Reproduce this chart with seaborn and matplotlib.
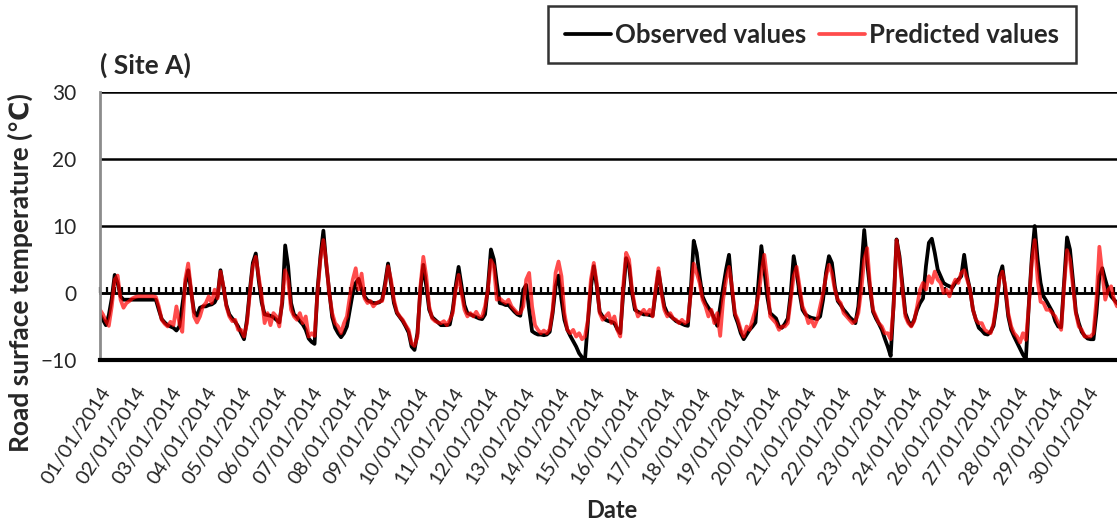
import numpy as np
import matplotlib
matplotlib.use('Agg')
import matplotlib.pyplot as plt
import seaborn as sns

# ── data: 2-hourly road surface temperature (°C), one row per day, 00h..22h ──
day_labels = ['01/01/2014', '02/01/2014', '03/01/2014', '04/01/2014', '05/01/2014',
              '06/01/2014', '07/01/2014', '08/01/2014', '09/01/2014', '10/01/2014',
              '11/01/2014', '12/01/2014', '13/01/2014', '14/01/2014', '15/01/2014',
              '16/01/2014', '17/01/2014', '18/01/2014', '19/01/2014', '20/01/2014',
              '21/01/2014', '22/01/2014', '23/01/2014', '24/01/2014', '26/01/2014',
              '27/01/2014', '28/01/2014', '29/01/2014', '30/01/2014']

observed = [
    -3.2, -4.0, -4.8, -3.3, -0.8, 2.7, 1.5, -0.5, -1.0, -1.0, -1.0, -1.0,
    -1.0, -1.0, -1.0, -1.0, -1.0, -1.0, -1.0, -1.0, -2.5, -3.9, -4.4, -4.8,
    -5.0, -5.2, -5.6, -5.0, -1.8, 1.3, 3.4, 0.2, -2.8, -3.4, -2.2, -2.0,
    -2.0, -1.8, -1.7, -1.4, -0.5, 3.4, 0.8, -1.8, -3.2, -3.8, -4.3, -5.0,
    -6.0, -6.9, -4.0, 0.5, 4.5, 5.9, 1.9, -1.4, -3.2, -3.3, -3.4, -3.6,
    -4.0, -4.4, -1.5, 7.1, 4.0, -1.5, -3.2, -3.6, -4.2, -4.7, -5.5, -6.8,
    -7.3, -7.6, 0.5, 5.5, 9.3, 4.2, 0.2, -3.6, -5.2, -6.0, -6.6, -6.0,
    -5.0, -2.5, 0.0, 1.5, 2.1, 0.5, -0.5, -1.1, -1.3, -1.5, -1.5, -1.4,
    -1.0, 1.5, 4.4, 1.5, -1.5, -3.0, -3.6, -4.2, -5.0, -5.9, -8.0, -8.5,
    -6.0, 0.5, 4.2, 1.0, -2.5, -3.6, -4.0, -4.4, -4.8, -4.8, -4.8, -4.7,
    -2.5, 1.0, 3.9, 1.0, -1.8, -3.0, -3.2, -3.4, -3.6, -3.8, -3.9, -3.2,
    1.0, 6.5, 5.0, 1.5, -1.5, -1.6, -1.8, -1.8, -2.3, -2.8, -3.2, -3.4,
    0.5, 1.2, -2.5, -5.7, -6.0, -6.2, -6.2, -6.3, -6.2, -5.8, -3.0, 1.0,
    2.6, -1.0, -4.0, -5.5, -6.4, -7.2, -8.0, -9.0, -9.6, -10.0, -4.3, 0.8,
    4.0, 1.0, -2.8, -3.5, -4.0, -4.2, -4.3, -4.5, -5.4, -6.0, 0.0, 5.2,
    4.0, 0.0, -2.5, -2.8, -3.0, -3.2, -3.2, -3.3, -3.4, 0.0, 3.2, 0.5,
    -2.0, -3.0, -3.4, -3.8, -4.2, -4.4, -4.6, -4.8, -4.9, 0.5, 7.8, 6.0,
    2.5, -0.5, -1.5, -2.2, -2.8, -3.8, -4.9, -2.0, 0.8, 3.5, 5.7, 0.5,
    -3.3, -4.5, -6.0, -6.9, -6.2, -5.5, -5.0, -4.4, 1.5, 7.0, 3.5, -0.5,
    -3.0, -3.4, -3.8, -5.0, -5.2, -4.6, -3.8, 0.0, 5.5, 3.0, 0.0, -2.5,
    -3.2, -3.5, -3.7, -3.8, -3.9, -3.5, -1.0, 3.0, 5.5, 4.5, 1.0, -1.2,
    -1.8, -2.5, -3.0, -3.6, -4.0, -4.5, -2.0, 3.5, 9.4, 4.5, 0.5, -2.8,
    -3.8, -4.6, -5.5, -6.8, -8.0, -9.4, -1.6, 8.0, 5.5, 1.2, -3.0, -4.2,
    -4.9, -4.0, -2.5, -1.5, -0.8, 4.0, 7.5, 8.1, 6.0, 3.5, 2.5, 1.5,
    1.2, 1.0, 0.8, 1.5, 2.0, 2.5, 5.7, 2.5, 0.5, -2.5, -4.0, -5.2,
    -5.6, -6.1, -6.2, -5.8, -4.9, -2.0, 2.5, 4.0, 0.5, -3.5, -5.5, -6.5,
    -7.4, -8.3, -9.2, -9.9, -1.7, 5.2, 10.0, 5.0, 1.5, -0.5, -1.2, -2.0,
    -2.8, -4.2, -5.0, -5.1, 1.6, 8.3, 6.5, 2.0, -2.8, -4.5, -5.8, -6.4,
    -6.8, -6.9, -6.9, -3.0, 2.5, 3.7, 2.0, 0.5, -0.5, -1.0, -1.5, -2.0,
]

predicted = [
    -2.5, -3.2, -4.2, -4.9, -2.0, 2.0, 2.6, -1.0, -2.2, -1.5, -1.2, -0.8,
    -0.6, -0.5, -0.5, -0.5, -0.5, -0.5, -0.5, -0.6, -2.0, -4.0, -4.6, -5.0,
    -4.3, -4.8, -2.0, -4.5, -5.8, 2.0, 4.4, 0.5, -3.5, -4.4, -3.5, -2.0,
    -1.5, -0.5, -1.5, 0.5, -0.8, 3.2, 1.0, -2.0, -3.5, -4.2, -4.0, -5.5,
    -5.5, -6.5, -4.5, 0.0, 4.0, 5.4, 2.5, -0.5, -4.5, -3.0, -4.8, -3.0,
    -3.5, -5.0, -1.0, 3.4, 2.0, -2.5, -3.5, -4.0, -3.0, -4.5, -3.5, -6.5,
    -6.0, -6.4, 0.0, 5.0, 7.9, 4.5, 0.0, -3.0, -4.5, -5.0, -6.0, -4.5,
    -3.5, -0.5, 2.0, 3.7, 0.5, 2.9, -0.8, -1.5, -1.2, -2.0, -1.5, -1.3,
    -1.2, 1.0, 4.0, 2.0, -1.0, -2.8, -3.5, -4.0, -4.8, -5.5, -7.5, -7.9,
    -6.5, 1.0, 5.4, 2.5, -2.0, -3.8, -4.2, -4.4, -4.5, -4.2, -4.8, -4.0,
    -3.0, 0.5, 2.7, 0.0, -2.5, -3.5, -3.0, -3.5, -2.8, -3.6, -3.5, -2.0,
    0.5, 4.9, 4.0, -1.0, -0.8, -1.2, -1.5, -1.0, -2.0, -2.5, -3.0, -3.0,
    -2.0, 2.0, 3.0, -2.0, -4.8, -5.5, -6.0, -5.6, -6.0, -5.4, -2.5, 3.0,
    4.7, 2.5, -3.0, -5.5, -6.0, -5.5, -6.5, -6.0, -6.9, -6.5, -4.0, 2.0,
    4.5, 1.5, -3.0, -4.0, -3.5, -3.0, -4.5, -3.5, -5.5, -6.5, 1.0, 6.0,
    5.0, 0.5, -2.0, -3.5, -3.0, -2.5, -3.2, -2.5, -3.5, 0.5, 3.7, 0.0,
    -2.5, -3.5, -3.0, -3.8, -4.0, -4.5, -4.0, -4.5, -4.2, 0.0, 4.4, 3.0,
    1.5, -1.0, -2.0, -3.5, -2.5, -4.5, -3.0, -6.4, -1.0, 2.0, 3.9, 1.0,
    -3.0, -4.0, -5.5, -6.5, -5.0, -5.5, -4.0, -2.5, -0.5, 3.0, 5.7, 2.0,
    -3.5, -4.0, -4.5, -5.5, -5.0, -5.0, -4.5, -1.0, 2.5, 3.9, 1.0, -2.0,
    -3.0, -4.5, -4.0, -5.0, -4.0, -2.0, 0.0, 2.5, 4.2, 3.0, 0.5, -1.0,
    -1.5, -3.0, -3.5, -4.0, -4.5, -4.2, -3.0, 0.5, 5.0, 6.7, 1.0, -2.5,
    -3.5, -4.5, -5.0, -6.0, -6.0, -6.9, -2.0, 7.9, 5.0, 0.5, -3.5, -4.5,
    -5.0, -4.2, -2.0, 0.5, 1.5, 0.5, 2.5, 1.5, 3.2, 2.0, 1.5, 0.0,
    0.5, -0.5, 1.0, 2.0, 1.5, 3.0, 3.4, 2.0, 0.5, -2.5, -4.0, -4.5,
    -4.5, -5.5, -5.8, -6.0, -4.5, -1.5, 2.0, 3.2, 1.0, -3.0, -5.0, -6.0,
    -6.5, -7.4, -6.0, -7.0, -2.0, 4.5, 7.9, 2.0, -1.3, -1.5, -2.5, -2.5,
    -3.0, -3.5, -4.5, -5.5, 1.0, 6.4, 5.0, 1.0, -3.0, -5.0, -5.5, -6.5,
    -6.5, -6.5, -6.0, -1.0, 6.9, 3.0, -1.0, 0.5, 1.0, -1.0, -2.0, -1.5,
]

hours = np.arange(len(observed)) * 2          # sample time, hours since 01/01 00h
label_hours = np.arange(len(day_labels)) * 24  # one category label per day

FONT = ['Lato', 'DejaVu Sans']
sns.set_style('white')
plt.rcParams['font.family'] = FONT

fig = plt.figure(figsize=(11.17, 5.25), dpi=100)
ax = fig.add_axes([100 / 1117, 165 / 525, 1017 / 1117, 268 / 525])

sns.lineplot(x=hours, y=observed, color='black', lw=2.7, ax=ax,
             label='Observed values', errorbar=None, sort=False)
sns.lineplot(x=hours, y=predicted, color='red', alpha=0.7, lw=2.7, ax=ax,
             label='Predicted values', errorbar=None, sort=False)

ax.set_xlim(0, 692)
ax.set_ylim(-10, 30)
ax.set_yticks([-10, 0, 10, 20, 30])
ax.yaxis.grid(True, color='black', lw=1.8)
ax.set_axisbelow(True)
ax.tick_params(axis='y', length=0, pad=17, labelsize=15)

ax.set_xticks(label_hours)
ax.set_xticklabels(day_labels, rotation=57, ha='right', rotation_mode='anchor',
                   fontsize=14.5)
ax.tick_params(axis='x', length=0, pad=17)

for side in ['top', 'right']:
    ax.spines[side].set_visible(False)
ax.spines['left'].set_color('#8c8c8c')
ax.spines['left'].set_linewidth(2)
ax.spines['bottom'].set_color('black')
ax.spines['bottom'].set_linewidth(3)

# category axis crossing at 0 with upward tick marks every 5 points
zero_axis = ax.secondary_xaxis(0.25)
zero_axis.set_xticks(np.arange(0, 700, 5))
zero_axis.tick_params(direction='in', length=4.5, width=1.6, color='black',
                      labelbottom=False, labeltop=False)
zero_axis.spines['bottom'].set_linewidth(2)

ax.set_ylabel('Road surface temperature (℃)', fontsize=19, fontweight='bold')
ax.yaxis.set_label_coords(-0.066, 0.325)
ax.set_xlabel('Date', fontsize=17, fontweight='bold')
ax.xaxis.set_label_coords(0.503, -0.52)

fig.text(100 / 1117, 1 - 65 / 525, '( Site A)', fontsize=19, fontweight='bold',
         va='center', ha='left')

handles, labels = ax.get_legend_handles_labels()
ax.get_legend().remove()
leg = fig.legend(handles, labels, loc='upper left', ncol=2,
                 bbox_to_anchor=(548 / 1117, 1 - 6 / 525),
                 frameon=True, fancybox=False, edgecolor='black',
                 prop={'family': FONT, 'weight': 'bold', 'size': 18.5},
                 handlelength=1.8, handletextpad=0.15, columnspacing=0.5,
                 borderpad=0.65, borderaxespad=0)
leg.get_frame().set_linewidth(1.8)

fig.savefig('out.png', dpi=100)
